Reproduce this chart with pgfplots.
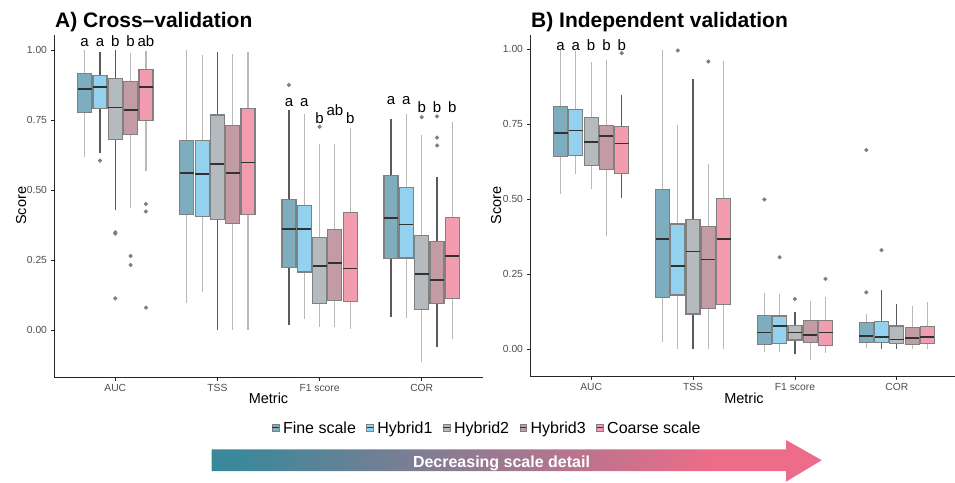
\documentclass[border=0pt]{standalone}
\usepackage{fontspec}
\setmainfont{Liberation Sans}
\usepackage{pgfplots}
\pgfplotsset{compat=1.18}
\usepgfplotslibrary{statistics}
\definecolor{cFine}{RGB}{125,173,190}
\definecolor{cHa}{RGB}{147,210,238}
\definecolor{cHb}{RGB}{180,186,190}
\definecolor{cHc}{RGB}{194,155,164}
\definecolor{cCoarse}{RGB}{242,157,175}
\definecolor{boxline}{RGB}{128,128,128}
\definecolor{medc}{RGB}{50,50,50}
\definecolor{wl}{RGB}{185,185,185}
\definecolor{wd}{RGB}{90,90,90}
\definecolor{outc}{RGB}{105,105,105}
\definecolor{tickc}{RGB}{77,77,77}
\definecolor{arrL}{RGB}{58,136,154}
\definecolor{arrR}{RGB}{236,108,137}
\pgfdeclarehorizontalshading{arrowshade}{100bp}{color(0bp)=(arrL); color(27bp)=(arrL); color(66bp)=(arrR); color(100bp)=(arrR)}
% #1 pos, #2 fill, #3 whisker colour, #4 lw, #5 lq, #6 med, #7 uq, #8 uw, #9 outliers
\newcommand{\bx}[9]{%
  \addplot[fill=#2, draw=boxline, line width=1.2pt, mark=*, mark size=1.4pt,
    mark options={draw=none, fill=outc},
    boxplot prepared={draw position=#1, lower whisker=#4, lower quartile=#5,
      median=#6, upper quartile=#7, upper whisker=#8},
    boxplot/every whisker/.style={draw=#3, line width=1.2pt},
    boxplot/every median/.style={draw=medc, line width=1.7pt}]
    coordinates {#9};}
\newcommand{\lt}[3]{\node[anchor=base, font=\fontsize{15}{18}\selectfont] at (axis cs:#1,#2) {#3};}
\pgfplotsset{myax/.style={scale only axis, xmin=0.4, xmax=4.6,
  axis x line*=bottom, axis y line*=left,
  axis line style={draw=black!85, line width=0.9pt, -},
  xtick={1,2,3,4}, xticklabels={AUC,TSS,F1 score,COR},
  ytick={0,0.25,0.5,0.75,1}, yticklabels={0.00,0.25,0.50,0.75,1.00},
  tick align=outside, major tick length=3.5pt,
  tick style={draw=black!85, line width=0.9pt},
  ticklabel style={font=\fontsize{10.3}{12}\selectfont, text=tickc},
  /pgf/number format/assume math mode=true,
  label style={font=\fontsize{14.5}{17}\selectfont},
  xlabel={Metric}, ylabel={Score},
  boxplot/draw direction=y, boxplot/box extend=0.137, boxplot/whisker extend=0,
  clip=false}}
\begin{document}
\begin{tikzpicture}
\path[use as bounding box] (0pt,0pt) rectangle (955pt,482pt);
% Panel A
\begin{axis}[myax, at={(54pt,105pt)}, anchor=south west, width=429pt, height=342.3pt,
  ymin=-0.167, ymax=1.0557,
  xlabel style={at={(axis description cs:0.5,-0.0622)}, anchor=center},
  ylabel style={at={(axis description cs:-0.0769,0.5)}, anchor=center}]
\bx{0.70}{cFine}{wl}{0.618}{0.777}{0.861}{0.918}{1.0}{}
\bx{0.85}{cHa}{wd}{0.632}{0.793}{0.870}{0.910}{0.993}{(0,0.606)}
\bx{1.00}{cHb}{wd}{0.43}{0.682}{0.796}{0.898}{1.0}{(0,0.350)(0,0.345)(0,0.114)}
\bx{1.15}{cHc}{wl}{0.435}{0.698}{0.786}{0.888}{0.989}{(0,0.265)(0,0.233)}
\bx{1.30}{cCoarse}{wl}{0.570}{0.749}{0.870}{0.932}{0.999}{(0,0.451)(0,0.424)(0,0.081)}
\bx{1.70}{cFine}{wl}{0.096}{0.414}{0.562}{0.677}{1.0}{}
\bx{1.85}{cHa}{wl}{0.138}{0.406}{0.557}{0.679}{0.983}{}
\bx{2.00}{cHb}{wd}{0.0}{0.396}{0.594}{0.769}{0.993}{}
\bx{2.15}{cHc}{wl}{0.0}{0.380}{0.562}{0.732}{0.986}{}
\bx{2.30}{cCoarse}{wl}{0.0}{0.414}{0.599}{0.792}{0.995}{}
\bx{2.70}{cFine}{wd}{0.017}{0.224}{0.362}{0.468}{0.787}{(0,0.876)}
\bx{2.85}{cHa}{wl}{0.041}{0.208}{0.362}{0.447}{0.771}{}
\bx{3.00}{cHb}{wl}{0.013}{0.096}{0.230}{0.332}{0.665}{(0,0.727)}
\bx{3.15}{cHc}{wl}{0.013}{0.106}{0.239}{0.361}{0.665}{}
\bx{3.30}{cCoarse}{wl}{0.003}{0.102}{0.221}{0.420}{0.724}{}
\bx{3.70}{cFine}{wd}{0.046}{0.255}{0.400}{0.552}{0.755}{}
\bx{3.85}{cHa}{wl}{0.043}{0.258}{0.378}{0.511}{0.771}{}
\bx{4.00}{cHb}{wl}{-0.112}{0.075}{0.201}{0.338}{0.698}{(0,0.761)}
\bx{4.15}{cHc}{wd}{-0.061}{0.096}{0.180}{0.317}{0.549}{(0,0.764)(0,0.688)(0,0.660)}
\bx{4.30}{cCoarse}{wl}{-0.030}{0.112}{0.264}{0.402}{0.745}{}
\lt{0.70}{1.013}{a}\lt{0.85}{1.013}{a}\lt{1.00}{1.013}{b}\lt{1.15}{1.013}{b}\lt{1.30}{1.013}{ab}
\lt{2.70}{0.799}{a}\lt{2.85}{0.799}{a}\lt{3.00}{0.739}{b}\lt{3.15}{0.767}{ab}\lt{3.30}{0.739}{b}
\lt{3.70}{0.808}{a}\lt{3.85}{0.808}{a}\lt{4.00}{0.777}{b}\lt{4.15}{0.777}{b}\lt{4.30}{0.777}{b}
\end{axis}
% Panel B
\begin{axis}[myax, at={(530pt,106pt)}, anchor=south west, width=428pt, height=341.3pt,
  ymin=-0.090, ymax=1.0487,
  xlabel style={at={(axis description cs:0.5,-0.0653)}, anchor=center},
  ylabel style={at={(axis description cs:-0.0794,0.5)}, anchor=center}]
\bx{0.70}{cFine}{wl}{0.516}{0.642}{0.720}{0.808}{0.998}{}
\bx{0.85}{cHa}{wl}{0.583}{0.645}{0.729}{0.798}{0.994}{}
\bx{1.00}{cHb}{wl}{0.534}{0.612}{0.690}{0.773}{0.956}{}
\bx{1.15}{cHc}{wl}{0.377}{0.598}{0.711}{0.746}{0.964}{}
\bx{1.30}{cCoarse}{wd}{0.503}{0.586}{0.686}{0.743}{0.848}{(0,0.987)}
\bx{1.70}{cFine}{wl}{0.024}{0.172}{0.366}{0.533}{0.998}{}
\bx{1.85}{cHa}{wl}{0.0}{0.180}{0.278}{0.417}{0.7475}{(0,0.996)}
\bx{2.00}{cHb}{wd}{0.0}{0.117}{0.325}{0.433}{0.901}{}
\bx{2.15}{cHc}{wl}{0.0}{0.136}{0.299}{0.408}{0.617}{(0,0.959)}
\bx{2.30}{cCoarse}{wl}{0.0}{0.149}{0.367}{0.503}{0.962}{}
\bx{2.70}{cFine}{wl}{-0.010}{0.016}{0.055}{0.113}{0.186}{(0,0.499)}
\bx{2.85}{cHa}{wl}{-0.010}{0.019}{0.077}{0.110}{0.184}{(0,0.306)}
\bx{3.00}{cHb}{wd}{-0.017}{0.030}{0.055}{0.078}{0.125}{(0,0.167)}
\bx{3.15}{cHc}{wl}{-0.038}{0.021}{0.046}{0.096}{0.160}{}
\bx{3.30}{cCoarse}{wl}{-0.012}{0.013}{0.055}{0.096}{0.172}{(0,0.234)}
\bx{3.70}{cFine}{wl}{0.004}{0.021}{0.043}{0.088}{0.117}{(0,0.189)(0,0.664)}
\bx{3.85}{cHa}{wd}{-0.001}{0.021}{0.041}{0.093}{0.197}{(0,0.330)}
\bx{4.00}{cHb}{wd}{0.0}{0.019}{0.032}{0.077}{0.149}{}
\bx{4.15}{cHc}{wl}{0.0}{0.016}{0.036}{0.071}{0.145}{}
\bx{4.30}{cCoarse}{wl}{0.0}{0.019}{0.039}{0.075}{0.156}{}
\lt{0.70}{0.997}{a}\lt{0.85}{0.997}{a}\lt{1.00}{0.997}{b}\lt{1.15}{0.997}{b}\lt{1.30}{0.997}{b}
\end{axis}
% Titles
\node[anchor=base west, inner sep=0pt, font=\fontsize{21}{24}\bfseries\selectfont] at (55pt,454.7pt) {A) Cross–validation};
\node[anchor=base west, inner sep=0pt, font=\fontsize{21}{24}\bfseries\selectfont] at (531pt,454.7pt) {B) Independent validation};
% Legend
\foreach \kx/\col/\lab in {272.3/cFine/Fine scale, 366.7/cHa/Hybrid1, 443.3/cHb/Hybrid2, 519.9/cHc/Hybrid3, 596.5/cCoarse/Coarse scale}{
  \draw[draw=boxline, line width=0.6pt, fill=\col] (\kx pt,50.6pt) rectangle (\kx pt+6.5pt,57.8pt);
  \draw[draw=medc, line width=0.8pt] (\kx pt,54.2pt) -- (\kx pt+6.5pt,54.2pt);
  \node[anchor=base west, inner sep=0pt, font=\fontsize{16}{19}\selectfont] at (\kx pt+10.5pt,48.7pt) {\lab};
}
% Arrow
\shade[shading=arrowshade] (211.7pt,11pt) -- (786pt,11pt) -- (786pt,0.3pt) -- (821.7pt,21.8pt) -- (786pt,42pt) -- (786pt,32.7pt) -- (211.7pt,32.7pt) -- cycle;
\node[anchor=base, inner sep=0pt, text=white, font=\fontsize{16}{19}\bfseries\selectfont] at (501.5pt,15pt) {Decreasing scale detail};
\end{tikzpicture}
\end{document}
